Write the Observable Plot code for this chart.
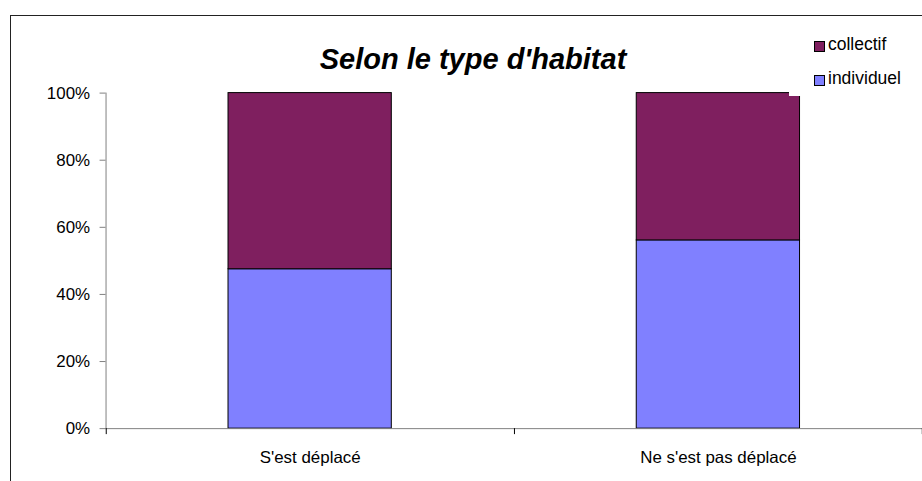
<!DOCTYPE html>
<html><head><meta charset="utf-8">
<script src="https://cdn.jsdelivr.net/npm/d3@7"></script>
<script src="https://cdn.jsdelivr.net/npm/@observablehq/plot@0.6"></script>
<style>
body{margin:0;background:#fff;overflow:hidden;font-family:"Liberation Sans",Arial,sans-serif}
#wrap{position:relative;width:922px;height:481px;overflow:hidden;background:#fff}
#border{position:absolute;left:10px;top:15px;width:940px;height:500px;border:1px solid #222;box-sizing:border-box}
#chart{position:absolute;left:0;top:0}
#title{position:absolute;left:0;width:946px;top:43px;text-align:center;font-weight:bold;font-style:italic;font-size:29px;color:#000}
#legend{position:absolute;left:789px;top:25px;width:140px;height:71px;background:#fff}
.item{position:absolute;left:39px;font-size:17.5px;color:#000;white-space:nowrap}
.sw{position:absolute;left:-14px;width:9px;height:9px;border:1px solid #000}
</style></head>
<body><div id="wrap"><div id="border"></div><div id="chart"></div><div id="title">Selon le type d'habitat</div><div id="legend"></div></div>
<script>
const categories = ["S'est déplacé", "Ne s'est pas déplacé"];
const seriesNames = ["individuel", "collectif"];
const individuel = [0.475, 0.561];
const collectif = [0.525, 0.439];
const colors = ["#8080FF", "#7F1F5F"];
const yTicks = [0, 0.2, 0.4, 0.6, 0.8, 1];
const legendOrder = ["collectif", "individuel"];

const rows = [];
categories.forEach((c, i) => {
  rows.push({cat: c, serie: "individuel", v: individuel[i]});
  rows.push({cat: c, serie: "collectif", v: collectif[i]});
});

const W = 926;
const plot = Plot.plot({
  width: W, height: 481,
  marginLeft: 106, marginRight: 0, marginTop: 93, marginBottom: 51,
  style: {fontFamily: '"Liberation Sans", Arial, sans-serif', fontSize: "17px", color: "#000", background: "transparent"},
  x: {domain: categories, paddingInner: 0.6, paddingOuter: 0.3, axis: null},
  y: {domain: [0, 1], axis: null},
  color: {domain: seriesNames, range: colors},
  marks: [
    Plot.barY(rows, {x: "cat", y: "v", fill: "serie", stroke: "#000", strokeWidth: 1, order: seriesNames}),
    Plot.frame({anchor: "left", stroke: "#808080"}),
    Plot.frame({anchor: "bottom", stroke: "#808080"}),
    Plot.axisY({ticks: yTicks, tickFormat: d3.format(".0%"), tickSize: 6, tickPadding: 10, label: null, stroke: "#808080", fill: "#000"}),
    Plot.axisX({tickSize: 0, tickPadding: 22, label: null, fill: "#000"}),
    Plot.ruleX(categories, {x: d => d, dx: -204.8, insetTop: 337, insetBottom: -6, stroke: "#000"}),
    Plot.ruleX(categories.slice(-1), {x: d => d, dx: 204.8, insetTop: 337, insetBottom: -6, stroke: "#000"})
  ]
});
document.getElementById("chart").appendChild(plot);

const leg = document.getElementById("legend");
legendOrder.forEach((name, i) => {
  const it = document.createElement("div");
  it.className = "item";
  it.style.top = (i * 34 + 9) + "px";
  const sw = document.createElement("span");
  sw.className = "sw";
  sw.style.background = colors[seriesNames.indexOf(name)];
  sw.style.top = "7px";
  it.appendChild(sw);
  it.appendChild(document.createTextNode(name));
  leg.appendChild(it);
});
</script></body></html>
